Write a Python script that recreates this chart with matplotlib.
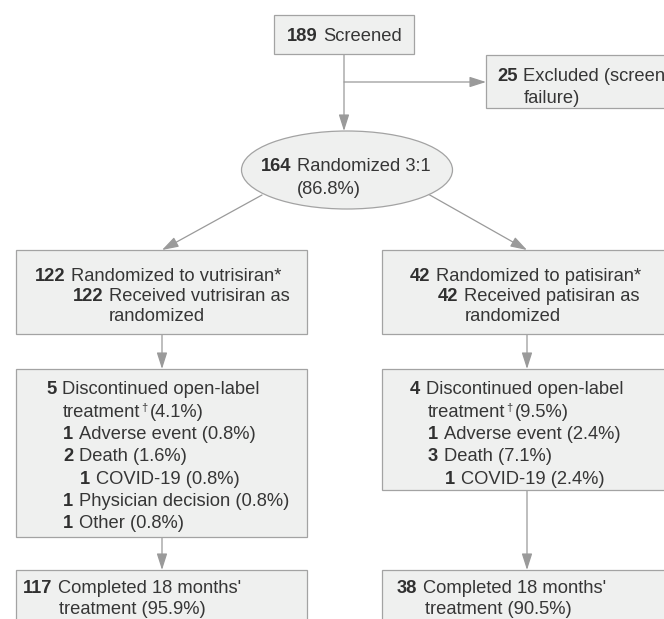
import matplotlib
matplotlib.use("Agg")
import matplotlib.pyplot as plt
from matplotlib.patches import Rectangle, Ellipse, FancyArrowPatch, ArrowStyle

# ---------------- data ----------------
screened_n = "189"
screened_label = "Screened"
excluded_n = "25"
excluded_label = ["Excluded (screening", "failure)"]
randomized_n = "164"
randomized_label = ["Randomized 3:1", "(86.8%)"]

arm1_alloc = [("122", "Randomized to vutrisiran*"), ("122", "Received vutrisiran as"), (None, "randomized")]
arm2_alloc = [("42", "Randomized to patisiran*"), ("42", "Received patisiran as"), (None, "randomized")]

# "^" marks a superscript dagger
arm1_disc = [("5", "Discontinued open-label"), (None, "treatment^(4.1%)"),
             ("1", "Adverse event (0.8%)"), ("2", "Death (1.6%)"),
             ("1", "COVID-19 (0.8%)"), ("1", "Physician decision (0.8%)"),
             ("1", "Other (0.8%)")]
arm1_disc_indent = [0, 1, 1, 1, 2, 1, 1]
arm2_disc = [("4", "Discontinued open-label"), (None, "treatment^(9.5%)"),
             ("1", "Adverse event (2.4%)"), ("3", "Death (7.1%)"),
             ("1", "COVID-19 (2.4%)")]
arm2_disc_indent = [0, 1, 1, 1, 2]

arm1_comp = [("117", "Completed 18 months'"), (None, "treatment (95.9%)")]
arm2_comp = [("38", "Completed 18 months'"), (None, "treatment (90.5%)")]

# ---------------- style ----------------
W, H = 664, 619
FONT = "Liberation Sans"
FS = 13.2
TXT = "#363636"
FILL = "#eff0ef"
EDGE = "#a3a3a3"
ARROW = "#9a9a9a"
LINE = 22.3

fig = plt.figure(figsize=(W / 100, H / 100), dpi=100)
ax = fig.add_axes([0, 0, 1, 1])
ax.set_xlim(0, W)
ax.set_ylim(H, 0)
ax.axis("off")
renderer = fig.canvas.get_renderer()
inv = ax.transData.inverted()


def right_x(t):
    bb = t.get_window_extent(renderer)
    return inv.transform((bb.x1, bb.y0))[0]


def box(x0, y0, x1, y1):
    ax.add_patch(Rectangle((x0, y0), x1 - x0, y1 - y0, facecolor=FILL,
                           edgecolor=EDGE, lw=0.9, zorder=2))


def line_text(x, yc, num, label):
    yb = yc + 6.3
    if num is not None:
        t = ax.text(x, yb, num, fontsize=FS, fontweight="bold", family=FONT,
                    color="#303030", va="baseline", ha="left", zorder=3)
        x = right_x(t) + 5.5
    if "^" in label:
        first, rest = label.split("^")
        t = ax.text(x, yb, first, fontsize=FS, family=FONT, color=TXT,
                    va="baseline", ha="left", zorder=3)
        x = right_x(t) + 0.5
        t = ax.text(x, yb - 6, "\u2020", fontsize=FS * 0.6, family=FONT, color=TXT,
                    va="baseline", ha="left", zorder=3)
        x = right_x(t) + 2.5
        label = rest
    ax.text(x, yb, label, fontsize=FS, family=FONT, color=TXT,
            va="baseline", ha="left", zorder=3)


def arrow(p0, p1):
    a = FancyArrowPatch(p0, p1, arrowstyle=ArrowStyle("-|>", head_length=1.0, head_width=0.32),
                        mutation_scale=10, color=ARROW, lw=0.9, shrinkA=0, shrinkB=0, zorder=1)
    ax.add_patch(a)


# top box
box(274, 15, 414, 54)
line_text(287, 35, screened_n, screened_label)

# excluded box
box(486, 55, 760, 108)
line_text(497, 75, excluded_n, excluded_label[0])
line_text(524, 97, None, excluded_label[1])

# arrows top
arrow((344, 54), (344, 131))
arrow((344, 82), (486, 82))

# ellipse
ax.add_patch(Ellipse((347, 170), 211, 78, facecolor=FILL, edgecolor=EDGE, lw=0.9, zorder=2))
line_text(261, 165, randomized_n, randomized_label[0])
line_text(297, 188, None, randomized_label[1])

arrow((262, 195), (162, 250))
arrow((428, 194), (527, 250))

# allocation boxes
box(16, 250, 307, 334)
for (n, lab), x, y in zip(arm1_alloc, [35, 73, 109], [275, 295, 315]):
    line_text(x, y, n, lab)
box(382, 250, 760, 334)
for (n, lab), x, y in zip(arm2_alloc, [410, 438, 465], [275, 295, 315]):
    line_text(x, y, n, lab)

arrow((162, 334), (162, 369))
arrow((527, 334), (527, 369))

# discontinued boxes
box(16, 369, 307, 537)
ind1 = {0: 46, 1: 63, 2: 80}
for i, ((n, lab), k) in enumerate(zip(arm1_disc, arm1_disc_indent)):
    line_text(ind1[k], 388 + LINE * i, n, lab)
box(382, 369, 760, 490)
ind2 = {0: 410, 1: 428, 2: 445}
for i, ((n, lab), k) in enumerate(zip(arm2_disc, arm2_disc_indent)):
    line_text(ind2[k], 388 + LINE * i, n, lab)

arrow((162, 537), (162, 570))
arrow((527, 490), (527, 570))

# completed boxes
box(16, 570, 307, 660)
line_text(23, 587, *arm1_comp[0])
line_text(59, 608, *arm1_comp[1])
box(382, 570, 760, 660)
line_text(397, 587, *arm2_comp[0])
line_text(425, 608, *arm2_comp[1])

fig.savefig("out.png", dpi=100, facecolor="white")
